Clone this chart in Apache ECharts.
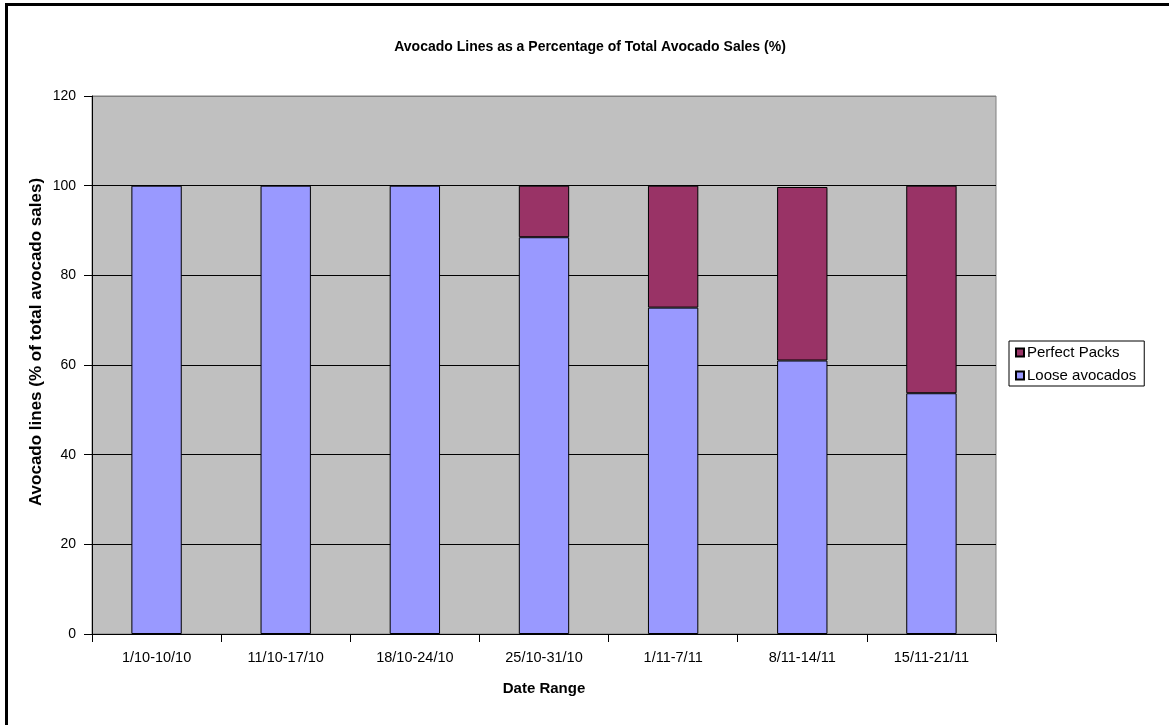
<!DOCTYPE html>
<html>
<head>
<meta charset="utf-8">
<script src="https://cdn.jsdelivr.net/npm/echarts@6/dist/echarts.min.js"></script>
<style>
html,body{margin:0;padding:0;background:#fff;}
#main{width:1169px;height:725px;}
</style>
</head>
<body>
<div id="main"></div>
<script>
const categories = ['1/10-10/10','11/10-17/10','18/10-24/10','25/10-31/10','1/11-7/11','8/11-14/11','15/11-21/11'];
const looseAvocados = [100, 100, 100, 88.5, 72.8, 61.0, 53.7];
const perfectPacks = ['-', '-', '-', 11.5, 27.2, 38.7, 46.3];
const yTicks = [0, 20, 40, 60, 80, 100, 120];

const chart = echarts.init(document.getElementById('main'));
const font = '"Liberation Sans", Arial, sans-serif';
chart.setOption({
  backgroundColor: '#ffffff',
  animation: false,
  textStyle: { fontFamily: font },
  title: {
    text: 'Avocado Lines as a Percentage of Total Avocado Sales (%)',
    left: 585, top: 35, textAlign: 'center',
    textStyle: { fontFamily: font, fontSize: 14, fontWeight: 'bold', color: '#000' }
  },
  graphic: [
    { type: 'line', shape: { x1: 6.5, y1: 4.5, x2: 6.5, y2: 725 }, style: { stroke: '#000', lineWidth: 3 } },
    { type: 'line', shape: { x1: 5, y1: 4.5, x2: 1169, y2: 4.5 }, style: { stroke: '#000', lineWidth: 3 } }
  ],
  legend: {
    orient: 'vertical',
    left: 1009, top: 341,
    data: ['Perfect Packs', 'Loose avocados'],
    icon: 'rect',
    itemWidth: 8, itemHeight: 8, itemGap: 8,
    padding: [4, 8, 3, 6],
    borderColor: '#000', borderWidth: 1,
    backgroundColor: '#fff',
    textStyle: { fontFamily: font, fontSize: 15, color: '#000', padding: [0, 0, 0, -2] }
  },
  grid: {
    left: 92, top: 96, right: 173, bottom: 91,
    show: true, backgroundColor: '#C0C0C0', borderColor: '#808080', borderWidth: 1
  },
  xAxis: {
    type: 'category',
    data: categories,
    name: 'Date Range',
    nameLocation: 'middle',
    nameGap: 47,
    nameMoveOverlap: false,
    nameTextStyle: { fontFamily: font, fontSize: 15, fontWeight: 'bold', color: '#000' },
    axisLine: { lineStyle: { color: '#000', width: 1 } },
    axisTick: { show: true, length: 8, lineStyle: { color: '#000' } },
    axisLabel: { fontFamily: font, fontSize: 14.5, color: '#000', margin: 16 }
  },
  yAxis: {
    type: 'value',
    min: 0, max: 120, interval: 20,
    name: 'Avocado lines (% of total avocado sales)',
    nameLocation: 'middle',
    nameGap: 47,
    nameMoveOverlap: false,
    nameTextStyle: { fontFamily: font, fontSize: 17, fontWeight: 'bold', color: '#000', padding: [0, 0, 0, 46] },
    axisLine: { show: true, lineStyle: { color: '#000', width: 1 } },
    axisTick: { show: true, length: 8, lineStyle: { color: '#000' } },
    axisLabel: { fontFamily: font, fontSize: 14, color: '#000', margin: 16,
      formatter: v => yTicks.includes(v) ? String(v) : '' },
    splitLine: { show: true, lineStyle: { color: ['#000', '#000', '#000', '#000', '#000', '#000', '#808080'], width: 1 } }
  },
  series: [
    {
      name: 'Loose avocados', type: 'bar', stack: 'total',
      data: looseAvocados, barWidth: '39%',
      itemStyle: { color: '#9999FF', borderColor: '#000', borderWidth: 1 }
    },
    {
      name: 'Perfect Packs', type: 'bar', stack: 'total',
      data: perfectPacks, barWidth: '39%',
      itemStyle: { color: '#993366', borderColor: '#000', borderWidth: 1 }
    }
  ]
});
</script>
</body>
</html>
